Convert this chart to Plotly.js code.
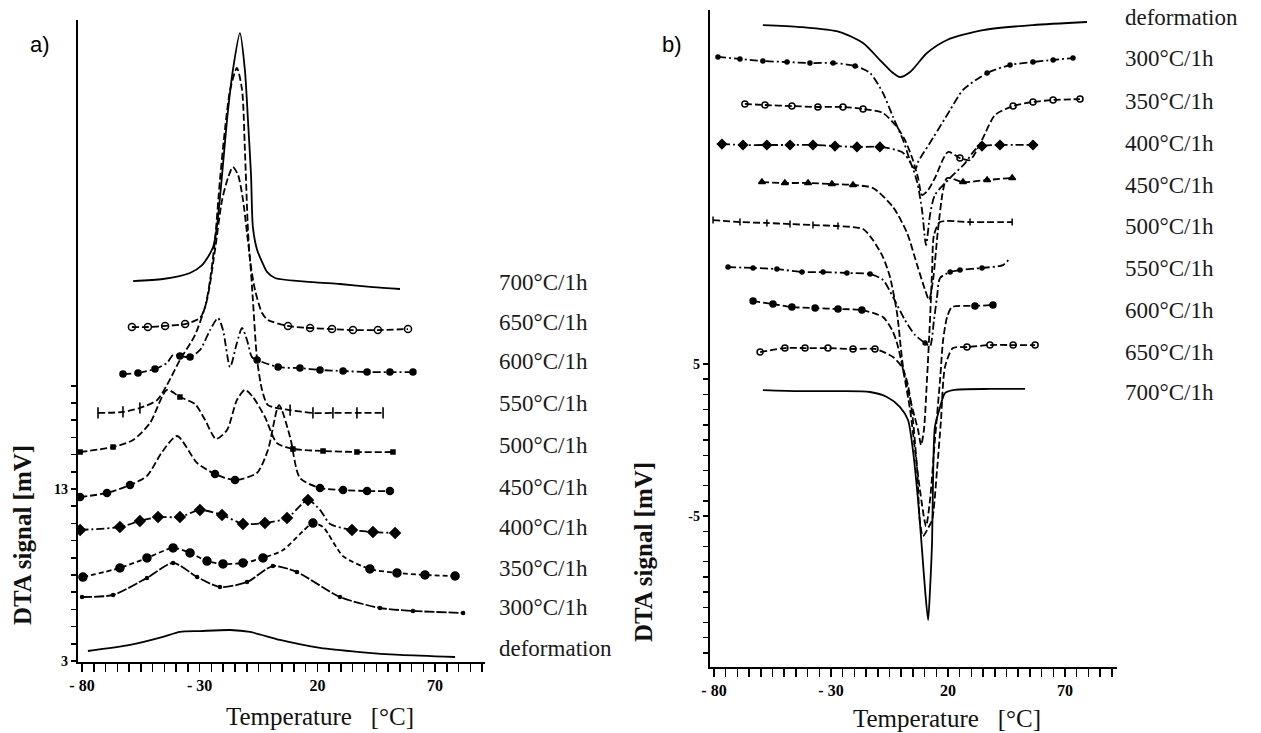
<!DOCTYPE html>
<html>
<head>
<meta charset="utf-8">
<script src="https://cdn.plot.ly/plotly-3.0.1.min.js"></script>
<style>html,body{margin:0;padding:0;background:#fff;}#chart{width:1261px;height:733px;}</style>
</head>
<body>
<div id="chart"></div>
<script>
// ---------- Panel a) : heating DTA curves (Temperature °C, DTA signal mV) ----------
const aDefT = [-77.5,-59.6,-45.6,-38.4,-29.9,-17.1,-8.6,4.1,21.1,38.1,55.1,78.5];
const aDefV = [3.58,3.93,4.40,4.69,4.74,4.80,4.69,4.22,3.76,3.52,3.35,3.23];
const a300T = [-80,-66.8,-52.4,-41.3,-31.1,-21.4,-9.9,1.1,11.3,29.6,46.6,60.6,81.9];
const a300V = [6.72,6.84,7.83,8.70,7.88,7.30,7.59,8.52,8.17,6.72,6.08,5.91,5.79];
const a350T = [-79.6,-63.9,-52.4,-41.3,-34.1,-26.9,-20.1,-11.6,-3.1,5.4,13.5,18.1,22.4,30.9,42.3,53.8,65.7,78.5];
const a350V = [7.88,8.41,8.99,9.57,9.28,8.81,8.64,8.70,8.99,9.45,10.50,11.02,10.79,9.10,8.35,8.12,8.00,7.94];
const a400T = [-80.8,-63.9,-55.4,-47.7,-38.4,-29.9,-20.5,-11.6,-2.3,7.1,16.0,21.1,25.4,34.7,43.6,53.0];
const a400V = [10.62,10.79,11.14,11.37,11.37,11.78,11.49,10.97,11.02,11.31,12.36,11.78,10.97,10.62,10.50,10.44];
const a450T = [-80.8,-69.4,-59.6,-52.4,-46.0,-39.6,-31.1,-23.5,-15.0,-5.7,-1.0,3.7,8.4,12.6,21.1,30.9,41.1,50.8];
const a450V = [12.53,12.77,13.23,13.76,15.15,16.08,14.51,13.87,13.52,13.93,15.27,17.88,16.02,13.64,13.06,12.94,12.88,12.88];
const a500T = [-80.8,-66.8,-58.3,-51.1,-43.9,-38.4,-32.0,-27.7,-23.1,-18.4,-14.2,-10.8,-7.4,-2.3,2.8,9.6,22.4,36.8,52.1];
const a500V = [15.15,15.44,15.85,16.84,18.76,18.35,17.94,17.01,15.91,16.43,18.17,18.76,18.35,17.19,15.67,15.33,15.21,15.15,15.15];
const a550T = [-73.2,-62.6,-55.4,-48.1,-43.9,-38.4,-32.0,-26.9,-23.5,-20.5,-18.0,-15.9,-13.7,-11.6,-9.9,-8.6,-7.4,-5.6,-3.5,-1.0,8.4,18.1,26.6,36.8,47.9];
const a550V = [17.42,17.48,17.71,18.17,19.05,20.50,21.95,23.99,26.90,29.80,31.08,31.72,31.26,29.80,27.88,26.31,23.99,20.50,18.76,17.88,17.59,17.42,17.42,17.42,17.42];
const a600T = [-62.6,-56.2,-49.0,-43.9,-41.3,-38.4,-34.1,-29.9,-25.6,-22.2,-20.1,-17.1,-14.2,-12.0,-9.9,-7.8,-5.6,3.3,12.6,21.1,30.9,41.1,50.8,60.6];
const a600V = [19.69,19.74,19.98,20.33,20.79,20.73,20.67,21.08,22.24,22.94,22.24,20.09,21.49,22.36,21.66,20.67,20.50,20.09,20.03,19.92,19.86,19.80,19.80,19.80];
const a650T = [-58.8,-52.0,-44.7,-36.2,-29.9,-27.7,-25.6,-23.5,-21.4,-19.3,-17.1,-14.2,-12.0,-10.8,-9.5,-8.6,-6.5,-3.5,-1.0,7.5,16.9,26.2,35.1,45.7,58.5];
const a650V = [22.42,22.42,22.48,22.59,22.94,23.58,25.15,27.48,30.97,33.87,36.20,37.48,36.20,32.71,28.06,26.31,24.57,23.23,22.83,22.48,22.36,22.30,22.24,22.24,22.30];
const a700T = [-58.3,-45.6,-34.1,-29.0,-26.5,-24.3,-22.7,-20.5,-18.4,-15.9,-12.9,-10.8,-9.5,-8.2,-7.4,-5.6,-3.5,-1.4,2.0,18.1,29.6,43.6,55.1];
const a700V = [25.09,25.21,25.56,26.02,26.49,27.07,28.23,31.26,34.45,37.36,39.51,37.36,34.45,31.26,28.23,26.90,26.20,25.62,25.27,25.03,24.92,24.74,24.63];

// ---------- Panel b) : cooling DTA curves ----------
const bDefT = [-59.1,-43.2,-26.2,-16.3,-9.1,-4.0,-0.5,3.8,11.0,19.6,35.0,56.3,79.4];
const bDefV = [27.30,27.17,26.84,26.12,25.00,24.21,23.88,24.21,25.46,26.32,26.97,27.30,27.50];
const b300T = [-78.3,-68.9,-59.1,-48.8,-39.0,-29.1,-19.7,-13.3,-7.8,-3.5,0.8,5.0,6.3,7.2,13.6,20.9,26.4,36.7,46.5,56.3,64.9,73.4];
const b300V = [25.20,25.07,24.93,24.87,24.80,24.80,24.61,24.14,22.83,21.25,19.74,17.96,17.89,18.29,19.87,21.71,23.03,24.14,24.67,24.87,25.00,25.13];
const b350T = [-66.8,-58.2,-46.7,-35.6,-24.9,-16.3,-7.8,-1.8,1.6,5.0,7.2,8.9,11.5,14.4,20.0,25.1,29.4,34.5,40.1,47.8,56.3,64.9,76.4];
const b350V = [22.11,22.04,21.97,21.91,21.91,21.78,21.51,20.59,19.74,18.42,17.24,16.12,16.45,17.24,18.95,18.55,18.42,19.74,21.38,21.97,22.24,22.37,22.43];
const b400T = [-76.6,-67.6,-57.4,-47.5,-37.7,-28.3,-18.9,-9.1,0.3,3.8,6.8,8.9,10.6,12.3,14.4,20.9,27.3,31.5,34.5,42.2,56.3];
const b400V = [19.47,19.41,19.41,19.41,19.41,19.34,19.28,19.28,18.95,18.29,16.97,15.13,12.83,14.80,16.12,17.24,18.22,19.08,19.34,19.41,19.41];
const b450T = [-59.5,-49.7,-39.8,-29.6,-20.6,-12.1,-3.5,2.5,6.8,10.2,11.9,13.6,15.7,17.9,19.6,26.4,36.7,47.4];
const b450V = [16.97,16.91,16.91,16.84,16.78,16.58,15.33,13.62,11.51,9.87,9.21,10.53,13.82,16.45,17.24,16.97,17.11,17.24];
const b500T = [-80.4,-68.9,-57.4,-47.5,-37.7,-27.0,-16.3,-12.1,-7.8,-4.8,-1.8,0.8,2.9,5.0,7.2,8.5,9.7,11.0,12.3,13.2,14.0,16.6,29.4,47.4];
const b500V = [14.47,14.34,14.28,14.21,14.14,14.08,13.88,13.16,12.04,10.72,8.36,4.80,3.29,1.97,0.66,-0.33,0.66,3.95,7.89,11.18,13.49,14.34,14.34,14.34];
const b550T = [-74.0,-63.3,-53.1,-42.4,-33.4,-23.2,-13.3,-7.8,-3.5,1.6,5.9,10.2,12.3,14.0,15.3,16.6,20.9,25.1,34.5,43.5,46.5];
const b550V = [11.38,11.32,11.25,11.05,11.05,10.99,10.92,10.53,9.41,7.89,6.91,6.38,6.18,7.89,9.41,10.66,11.05,11.18,11.32,11.51,11.97];
const b600T = [-63.3,-54.8,-46.7,-36.8,-27.0,-16.8,-7.8,-3.9,-1.8,0.8,3.8,5.9,8.0,10.6,12.3,14.4,16.6,17.9,19.6,21.7,31.5,39.2];
const b600V = [9.14,8.95,8.75,8.68,8.62,8.55,8.09,7.24,6.38,4.61,1.97,-0.66,-3.29,-5.66,-3.95,0.00,3.95,6.58,8.09,8.75,8.82,8.88];
const b650T = [-60.3,-49.7,-41.1,-31.3,-20.6,-11.2,-3.5,0.3,2.9,5.0,6.8,8.0,9.3,11.5,13.2,15.3,17.0,18.7,22.1,28.1,37.9,47.8,57.2];
const b650V = [5.79,6.05,6.05,6.05,5.99,5.99,5.46,4.80,3.62,1.32,-1.97,-5.39,-6.32,-5.79,-5.26,-1.97,1.32,4.80,6.05,6.12,6.25,6.25,6.25];
const b700T = [-59.1,-43.2,-26.2,-13.3,-6.1,-0.5,2.9,5.0,7.2,8.9,10.2,11.5,12.3,13.2,13.6,14.4,16.6,18.7,22.1,37.9,52.9];
const b700V = [3.29,3.22,3.22,3.16,2.83,2.17,1.32,-0.66,-3.95,-7.24,-9.87,-11.84,-9.87,-6.58,-2.63,0.86,2.17,3.09,3.29,3.36,3.36];

// ---------- Text ----------
const labelsA = ['700°C/1h','650°C/1h','600°C/1h','550°C/1h','500°C/1h','450°C/1h','400°C/1h','350°C/1h','300°C/1h','deformation'];
const labelsB = ['deformation','300°C/1h','350°C/1h','400°C/1h','450°C/1h','500°C/1h','550°C/1h','600°C/1h','650°C/1h','700°C/1h'];
const xTickLabelVals = [-80,-30,20,70];
const xTickLabelText = ['- 80','- 30','20','70'];
const yTickLabelValsA = [3,13];
const yTickLabelTextA = ['3','13'];
const yTickLabelValsB = [-15,-5,5];
const yTickLabelTextB = ['15','-5','5'];
const xTitle = 'Temperature\u00a0\u00a0\u00a0[°C]';
const yTitle = 'DTA signal [mV]';

// ---------- Layout geometry (pixels) ----------
const W = 1261, H = 733;
const geoA = {x0:78, x1:485, y0:662, y1:20, xr:[-81.7,91.2], yr:[2.94,40.27]};
const geoB = {x0:710, x1:1117, y0:667, y1:10, xr:[-81.7,92.2], yr:[-14.93,28.29]};

function markerSizes(T, V, geo, base){
  const sx = (geo.x1-geo.x0)/(geo.xr[1]-geo.xr[0]);
  const sy = (geo.y0-geo.y1)/(geo.yr[1]-geo.yr[0]);
  return T.map((t,i)=>{
    let m = 0;
    if(i>0) m = Math.max(m, Math.abs((V[i]-V[i-1])*sy)/Math.max(0.1,Math.abs((t-T[i-1])*sx)));
    if(i<T.length-1) m = Math.max(m, Math.abs((V[i+1]-V[i])*sy)/Math.max(0.1,Math.abs((T[i+1]-t)*sx)));
    return m < 0.9 ? base : 0;
  });
}

function mk(T, V, geo, xa, ya, st){
  const tr = {x:T, y:V, xaxis:xa, yaxis:ya, type:'scatter', hoverinfo:'skip',
    mode: st.symbol ? 'lines+markers' : 'lines',
    line:{color:'#000', width:st.w||1.8, dash:st.dash||'solid', shape:'spline', smoothing:0.7}};
  if(st.symbol){
    tr.marker = {symbol:st.symbol, size:markerSizes(T,V,geo,st.size), color:'#000', opacity:1,
                 line:{color:'#000', width:st.lw||1.5}};
  }
  return tr;
}

const D1 = '7px,3px', D2 = '8px,3px,2px,3px', D3 = '5px,3px';
const traces = [
  mk(aDefT,aDefV,geoA,'x','y',{}),
  mk(a300T,a300V,geoA,'x','y',{dash:'10px,2px',symbol:'circle',size:3}),
  mk(a350T,a350V,geoA,'x','y',{dash:D3,symbol:'circle',size:8}),
  mk(a400T,a400V,geoA,'x','y',{dash:D2,symbol:'diamond',size:8}),
  mk(a450T,a450V,geoA,'x','y',{dash:D1,symbol:'circle',size:7}),
  mk(a500T,a500V,geoA,'x','y',{dash:D1,symbol:'square',size:4}),
  mk(a550T,a550V,geoA,'x','y',{dash:D1,symbol:'line-ns-open',size:8,lw:1.6}),
  mk(a600T,a600V,geoA,'x','y',{dash:D2,symbol:'circle',size:6}),
  mk(a650T,a650V,geoA,'x','y',{dash:D1,symbol:'circle-open',size:7}),
  mk(a700T,a700V,geoA,'x','y',{}),
  mk(bDefT,bDefV,geoB,'x2','y2',{}),
  mk(b300T,b300V,geoB,'x2','y2',{dash:D2,symbol:'circle',size:4}),
  mk(b350T,b350V,geoB,'x2','y2',{dash:D1,symbol:'circle-open',size:6}),
  mk(b400T,b400V,geoB,'x2','y2',{dash:D2,symbol:'diamond',size:7}),
  mk(b450T,b450V,geoB,'x2','y2',{dash:D1,symbol:'triangle-up',size:6}),
  mk(b500T,b500V,geoB,'x2','y2',{dash:D1,symbol:'line-ns-open',size:5}),
  mk(b550T,b550V,geoB,'x2','y2',{dash:D2,symbol:'circle',size:4}),
  mk(b600T,b600V,geoB,'x2','y2',{dash:D1,symbol:'circle',size:6}),
  mk(b650T,b650V,geoB,'x2','y2',{dash:D1,symbol:'circle-open',size:6}),
  mk(b700T,b700V,geoB,'x2','y2',{})
];

function range(a,b,s){const r=[];for(let v=a;v<=b+1e-9;v+=s)r.push(v);return r;}
function ticks(vals, labVals, labText){return vals.map(v=>{const i=labVals.indexOf(v);return i>=0?labText[i]:'';});}
const xTickVals = range(-80,90,5);
const yTickValsA = range(3,19,1);
const yTickValsB = range(-15,5,1);

const serif = 'Liberation Serif, DejaVu Serif, serif';
function xAxis(geo, anchor){
  return {domain:[geo.x0/W, geo.x1/W], range:geo.xr, anchor:anchor, showgrid:false, zeroline:false,
    showline:true, linewidth:2, linecolor:'#000', ticks:'outside', ticklen:8, tickwidth:1.5, tickcolor:'#000',
    tickmode:'array', tickvals:xTickVals, ticktext:ticks(xTickVals,xTickLabelVals,xTickLabelText),
    tickfont:{family:serif, size:16, color:'#000', weight:'bold'}, fixedrange:true};
}
function yAxis(geo, anchor, vals, lv, lt){
  return {domain:[1-geo.y0/H, 1-geo.y1/H], range:geo.yr, anchor:anchor, showgrid:false, zeroline:false,
    showline:true, linewidth:2.2, linecolor:'#000', ticks:'outside', ticklen:5, tickwidth:1.5, tickcolor:'#000',
    tickmode:'array', tickvals:vals, ticktext:ticks(vals,lv,lt),
    tickfont:{family:serif, size:14, color:'#000', weight:'bold'}, fixedrange:true};
}

const labelYA = [282,322,361,403,445,487,527,568,607,648];
const labelYB = [18,59,101,143,185,226,268,310,352,392];
const annotations = [];
labelsA.forEach((t,i)=>annotations.push({xref:'paper',yref:'paper',x:497/W,y:1-labelYA[i]/H,xanchor:'left',yanchor:'middle',showarrow:false,text:t,font:{family:serif,size:23,color:'#1a1a1a'}}));
labelsB.forEach((t,i)=>annotations.push({xref:'paper',yref:'paper',x:1123/W,y:1-labelYB[i]/H,xanchor:'left',yanchor:'middle',showarrow:false,text:t,font:{family:serif,size:23,color:'#1a1a1a'}}));
annotations.push({xref:'paper',yref:'paper',x:320/W,y:1-716/H,xanchor:'center',yanchor:'middle',showarrow:false,text:xTitle,font:{family:serif,size:25,color:'#111'}});
annotations.push({xref:'paper',yref:'paper',x:947/W,y:1-718/H,xanchor:'center',yanchor:'middle',showarrow:false,text:xTitle,font:{family:serif,size:25,color:'#111'}});
annotations.push({xref:'paper',yref:'paper',x:22/W,y:1-535/H,xanchor:'center',yanchor:'middle',textangle:-90,showarrow:false,text:yTitle,font:{family:serif,size:25,color:'#111',weight:'bold'}});
annotations.push({xref:'paper',yref:'paper',x:643/W,y:1-552/H,xanchor:'center',yanchor:'middle',textangle:-90,showarrow:false,text:yTitle,font:{family:serif,size:25,color:'#111',weight:'bold'}});
annotations.push({xref:'paper',yref:'paper',x:40/W,y:1-45/H,xanchor:'center',yanchor:'middle',showarrow:false,text:'a)',font:{family:'Liberation Sans, Arial, sans-serif',size:22,color:'#000'}});
annotations.push({xref:'paper',yref:'paper',x:672/W,y:1-45/H,xanchor:'center',yanchor:'middle',showarrow:false,text:'b)',font:{family:'Liberation Sans, Arial, sans-serif',size:22,color:'#000'}});

const layout = {
  width:W, height:H, margin:{l:0,r:0,t:0,b:0}, showlegend:false,
  paper_bgcolor:'#fff', plot_bgcolor:'#fff',
  xaxis:xAxis(geoA,'y'), yaxis:yAxis(geoA,'x',yTickValsA,yTickLabelValsA,yTickLabelTextA),
  xaxis2:xAxis(geoB,'y2'), yaxis2:yAxis(geoB,'x2',yTickValsB,yTickLabelValsB,yTickLabelTextB),
  annotations:annotations
};

Plotly.newPlot('chart', traces, layout, {staticPlot:true, displayModeBar:false});
</script>
</body>
</html>
